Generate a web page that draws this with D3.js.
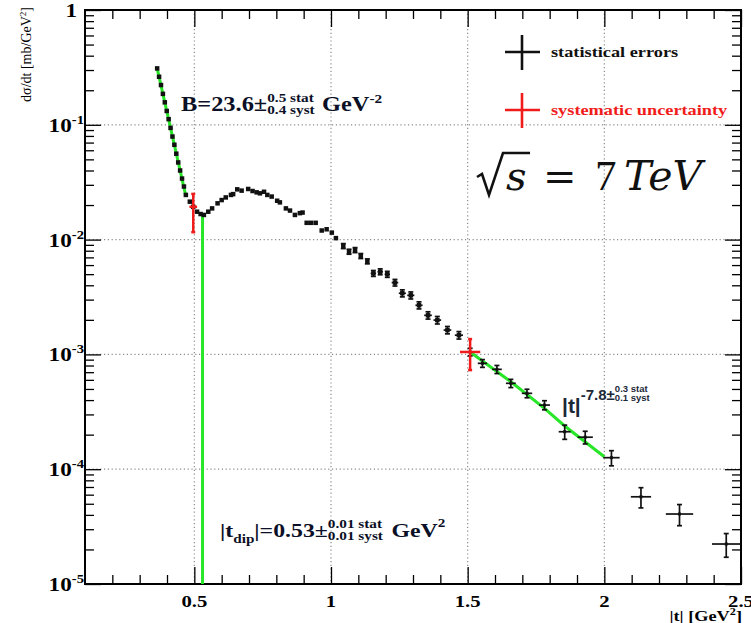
<!DOCTYPE html>
<html>
<head>
<meta charset="utf-8">
<title>dsigma/dt at 7 TeV</title>
<style>
  body { margin: 0; background: #fff; }
  svg { display: block; }
</style>
</head>
<body>
<div id="chart"></div>
<script src="https://d3js.org/d3.v7.min.js"></script>
<script>

var width = 751, height = 623;
var margin = {top: 10, right: 10, bottom: 39, left: 85};

// |t| [GeV^2] and dsigma/dt [mb/GeV^2]
var tVals = [0.364, 0.371, 0.378, 0.385, 0.392, 0.399, 0.406, 0.413, 0.420, 0.427, 0.434, 0.441,
             0.448, 0.455, 0.462, 0.469, 0.4835, 0.496, 0.510, 0.523, 0.535, 0.551, 0.565, 0.585,
             0.600, 0.615, 0.634, 0.642, 0.657, 0.673, 0.697, 0.713, 0.728, 0.740, 0.755, 0.767,
             0.783, 0.803, 0.813, 0.835, 0.850, 0.868, 0.886, 0.896, 0.911, 0.927, 0.944, 0.966,
             0.984, 1.003, 1.018, 1.045, 1.066, 1.088, 1.109, 1.133, 1.155, 1.180, 1.206, 1.234,
             1.261, 1.292, 1.322, 1.355, 1.389, 1.426, 1.468, 1.509, 1.554, 1.607, 1.658, 1.717,
             1.781, 1.855, 1.930, 2.026, 2.134, 2.275, 2.446];
var dsdt = [0.310, 0.262, 0.222, 0.186, 0.157, 0.132, 0.112, 0.094, 0.079, 0.067, 0.056, 0.047,
            0.040, 0.034, 0.029, 0.0245, 0.0214, 0.0193, 0.0175, 0.0167, 0.0164, 0.0175, 0.0187, 0.0207,
            0.0221, 0.0233, 0.0245, 0.0249, 0.0274, 0.0267, 0.0276, 0.0265, 0.0258, 0.0253, 0.0261, 0.0245,
            0.0237, 0.0218, 0.0211, 0.0187, 0.0179, 0.0164, 0.0170, 0.0172, 0.0140, 0.0140, 0.0140, 0.0120,
            0.0123, 0.0115, 0.0103, 0.00879, 0.00785, 0.00811, 0.00720, 0.00647, 0.00508, 0.00525, 0.00499, 0.00422,
            0.00341, 0.00327, 0.00268, 0.00219, 0.00199, 0.00163, 0.00147, 0.00105, 8.36e-4, 7.41e-4, 5.60e-4, 4.58e-4,
            3.62e-4, 2.12e-4, 1.90e-4, 1.26e-4, 5.75e-5, 4.07e-5, 2.23e-5];
var tErr = [0, 0, 0, 0, 0, 0, 0, 0, 0, 0, 0, 0,
            0, 0, 0, 0, 0, 0, 0, 0, 0, 0, 0, 0,
            0, 0, 0, 0, 0, 0, 0, 0, 0, 0, 0, 0,
            0, 0, 0, 0, 0, 0, 0, 0, 0, 0, 0, 0,
            0, 0, 0, 0.006, 0.006, 0.006, 0.006, 0.006, 0.010, 0.010, 0.010, 0.012,
            0.013, 0.013, 0.013, 0.014, 0.014, 0.014, 0.015, 0.016, 0.017, 0.018, 0.018, 0.019,
            0.020, 0.022, 0.028, 0.030, 0.037, 0.050, 0.052];
var dsdtErr = [0, 0, 0, 0, 0, 0, 0, 0, 0, 0, 0, 0,
               0, 0, 0, 0, 0, 0, 0, 0, 0, 0, 0, 0,
               0, 0, 0, 0, 0, 0, 0, 0, 0, 0, 0, 0,
               0, 0, 0, 0, 0, 0, 0, 0, 0, 0, 0, 0,
               0, 0, 0, 0.00044, 0.00039, 0.00041, 0.00036, 0.00032, 0.00030, 0.00031, 0.00030, 0.00028,
               0.00024, 0.00023, 0.00019, 0.00016, 0.00015, 0.00012, 0.00011, 0.00008, 6.5e-5, 6.0e-5, 4.6e-5, 3.9e-5,
               3.3e-5, 3.0e-5, 2.4e-5, 1.9e-5, 1.15e-5, 8.5e-6, 5.2e-6];

// systematic uncertainty bars (red)
var sysT = [0.496, 1.509];
var sysVal = [0.0193, 0.00105];
var sysTErr = [0.014, 0.037];
var sysLow = [0.0116, 7.3e-4];
var sysHigh = [0.025, 1.36e-3];

// fitted curves (green), read as points
var expFitT = [0.364, 0.468];
var expFitV = [0.31, 0.0245];
var powFitT = [1.509, 1.658, 1.781, 1.855, 2.0];
var powFitV = [1.05e-3, 5.78e-4, 3.39e-4, 2.38e-4, 1.285e-4];
var tDip = 0.53;
var dipTop = 0.0164;

var xMajor = [0.5, 1, 1.5, 2, 2.5];
var xLabels = ["0.5", "1", "1.5", "2", "2.5"];
var yMajor = [1, 1e-1, 1e-2, 1e-3, 1e-4, 1e-5];
var yExp = ["0", "-1", "-2", "-3", "-4", "-5"];

var serif = "'Liberation Serif', 'Times New Roman', serif";
var sans = "'Liberation Sans', Arial, sans-serif";
var sx = 1.22;   // ROOT text in the picture is a bit wide

var svg = d3.select("#chart").append("svg")
    .attr("width", width)
    .attr("height", height);

var x = d3.scaleLinear().domain([0.1, 2.5]).range([margin.left, width - margin.right]);
var y = d3.scaleLog().domain([1e-5, 1]).range([height - margin.bottom, margin.top]);

var x0 = margin.left, x1 = width - margin.right,
    y0 = margin.top, y1 = height - margin.bottom;

// grid
var grid = svg.append("g")
    .attr("stroke", "#8c8c8c")
    .attr("stroke-width", 1.2)
    .attr("stroke-dasharray", "1.2,2.6");
grid.selectAll(".gx").data(xMajor.filter(function(d) { return d < 2.5; }))
    .enter().append("line")
    .attr("x1", function(d) { return x(d); }).attr("x2", function(d) { return x(d); })
    .attr("y1", y0).attr("y2", y1);
grid.selectAll(".gy").data(yMajor.filter(function(d) { return d < 1 && d > 1e-5; }))
    .enter().append("line")
    .attr("y1", function(d) { return y(d); }).attr("y2", function(d) { return y(d); })
    .attr("x1", x0).attr("x2", x1);

// ticks, pointing inward on all four sides
var xMinor = d3.range(2, 25).map(function(i) { return i / 10; })
    .filter(function(d) { return Math.abs(d * 2 - Math.round(d * 2)) > 1e-6; });
var yMinor = y.ticks().filter(function(d) {
    var m = d / Math.pow(10, Math.floor(Math.log10(d) + 1e-9));
    return Math.abs(m - 1) > 1e-6;
});

function styleAxis(g) {
    g.select(".domain").remove();
    g.selectAll("line").attr("stroke", "#000").attr("stroke-width", 1.3);
    g.selectAll("text").remove();
}

svg.append("g").attr("transform", "translate(0," + y1 + ")")
    .call(d3.axisBottom(x).tickValues(xMajor).tickSize(-17).tickSizeOuter(0)).call(styleAxis);
svg.append("g").attr("transform", "translate(0," + y1 + ")")
    .call(d3.axisBottom(x).tickValues(xMinor).tickSize(-9).tickSizeOuter(0)).call(styleAxis);
svg.append("g").attr("transform", "translate(0," + y0 + ")")
    .call(d3.axisTop(x).tickValues(xMajor).tickSize(-17).tickSizeOuter(0)).call(styleAxis);
svg.append("g").attr("transform", "translate(0," + y0 + ")")
    .call(d3.axisTop(x).tickValues(xMinor).tickSize(-9).tickSizeOuter(0)).call(styleAxis);
svg.append("g").attr("transform", "translate(" + x0 + ",0)")
    .call(d3.axisLeft(y).tickValues(yMajor).tickSize(-16).tickSizeOuter(0)).call(styleAxis);
svg.append("g").attr("transform", "translate(" + x0 + ",0)")
    .call(d3.axisLeft(y).tickValues(yMinor).tickSize(-9).tickSizeOuter(0)).call(styleAxis);
svg.append("g").attr("transform", "translate(" + x1 + ",0)")
    .call(d3.axisRight(y).tickValues(yMajor).tickSize(-16).tickSizeOuter(0)).call(styleAxis);
svg.append("g").attr("transform", "translate(" + x1 + ",0)")
    .call(d3.axisRight(y).tickValues(yMinor).tickSize(-9).tickSizeOuter(0)).call(styleAxis);

// frame
svg.append("rect")
    .attr("x", x0).attr("y", y0)
    .attr("width", x1 - x0).attr("height", y1 - y0)
    .attr("fill", "none").attr("stroke", "#000").attr("stroke-width", 2);

// tick labels
svg.selectAll(".xl").data(xMajor)
    .enter().append("text")
    .attr("transform", function(d) { return "translate(" + x(d) + "," + (y1 + 23) + ") scale(" + sx + ",1)"; })
    .attr("text-anchor", "middle")
    .style("font-family", serif).style("font-weight", "bold").style("font-size", "17px")
    .text(function(d, i) { return xLabels[i]; });

var yl = svg.selectAll(".yl").data(yMajor)
    .enter().append("text")
    .attr("transform", function(d, i) {
        return "translate(" + (i === 0 ? 77 : 84) + "," + (y(d) + 7) + ") scale(" + sx + ",1)";
    })
    .attr("text-anchor", "end")
    .style("font-family", serif).style("font-weight", "bold").style("font-size", "19px");
yl.each(function(d, i) {
    var t = d3.select(this);
    if (i === 0) { t.text("1"); return; }
    t.append("tspan").text("10");
    t.append("tspan").attr("dy", -8).style("font-size", "12px").text(yExp[i]);
});

// axis titles
var yt = svg.append("text")
    .attr("transform", "translate(31,7) rotate(-90)")
    .attr("text-anchor", "end")
    .style("font-family", serif).style("font-size", "14px");
yt.append("tspan").text("dσ/dt [mb/GeV");
yt.append("tspan").attr("dy", -5).style("font-size", "9px").text("2");
yt.append("tspan").attr("dy", 5).text("]");

var xt = svg.append("text")
    .attr("transform", "translate(" + (x1 + 1) + ",621) scale(" + sx + ",1)")
    .attr("text-anchor", "end")
    .style("font-family", serif).style("font-weight", "bold").style("font-size", "15px");
xt.append("tspan").text("|t| [GeV");
xt.append("tspan").attr("dy", -6).style("font-size", "10px").text("2");
xt.append("tspan").attr("dy", 6).text("]");

// fit curves
var line = d3.line().x(function(d) { return x(d[0]); }).y(function(d) { return y(d[1]); });
var fits = svg.append("g").attr("fill", "none").attr("stroke", "#27e627").attr("stroke-width", 3);
fits.append("path").attr("d", line(expFitT.map(function(t, i) { return [t, expFitV[i]]; })));
fits.append("path").attr("d", line(powFitT.map(function(t, i) { return [t, powFitV[i]]; })));
fits.append("path").attr("d", line([[tDip, dipTop], [tDip, 1e-5]]));

// statistical error bars and markers
var pts = tVals.map(function(t, i) {
    return {t: t, v: dsdt[i], et: tErr[i], ev: dsdtErr[i]};
});
var bars = svg.append("g").attr("stroke", "#111").attr("stroke-width", 1.7);
pts.filter(function(d) { return d.et > 0; }).forEach(function(d) {
    bars.append("line").attr("x1", x(d.t - d.et)).attr("x2", x(d.t + d.et))
        .attr("y1", y(d.v)).attr("y2", y(d.v));
    bars.append("line").attr("x1", x(d.t)).attr("x2", x(d.t))
        .attr("y1", y(d.v - d.ev)).attr("y2", y(d.v + d.ev));
    [d.v - d.ev, d.v + d.ev].forEach(function(v) {
        bars.append("line").attr("x1", x(d.t) - 2.5).attr("x2", x(d.t) + 2.5)
            .attr("y1", y(v)).attr("y2", y(v));
    });
});
svg.append("g").selectAll("rect").data(pts)
    .enter().append("rect")
    .attr("x", function(d) { var s = d.t < 1.5 ? 4.5 : 3; return x(d.t) - s / 2; })
    .attr("y", function(d) { var s = d.t < 1.5 ? 4.5 : 3; return y(d.v) - s / 2; })
    .attr("width", function(d) { return d.t < 1.5 ? 4.5 : 3; })
    .attr("height", function(d) { return d.t < 1.5 ? 4.5 : 3; })
    .attr("fill", "#111");

// systematic bars
var sys = svg.append("g").attr("stroke", "#f01c1c").attr("stroke-width", 2.5);
sysT.forEach(function(t, i) {
    sys.append("line").attr("x1", x(t - sysTErr[i])).attr("x2", x(t + sysTErr[i]))
        .attr("y1", y(sysVal[i])).attr("y2", y(sysVal[i]));
    sys.append("line").attr("x1", x(t)).attr("x2", x(t))
        .attr("y1", y(sysLow[i])).attr("y2", y(sysHigh[i]));
    [sysLow[i], sysHigh[i]].forEach(function(v) {
        sys.append("line").attr("x1", x(t) - 2).attr("x2", x(t) + 2)
            .attr("y1", y(v)).attr("y2", y(v));
    });
});

// legend
var legend = [{label: "statistical errors", color: "#111", cy: 52},
              {label: "systematic uncertainty", color: "#f01c1c", cy: 110}];
legend.forEach(function(l) {
    var g = svg.append("g").attr("stroke", l.color).attr("stroke-width", 2.6);
    g.append("line").attr("x1", 505).attr("x2", 540).attr("y1", l.cy).attr("y2", l.cy);
    g.append("line").attr("x1", 522).attr("x2", 522).attr("y1", l.cy - 17).attr("y2", l.cy + 18);
    svg.append("text")
        .attr("transform", "translate(551," + (l.cy + 5) + ") scale(" + sx + ",1)")
        .style("font-family", serif).style("font-weight", "bold").style("font-size", "15px")
        .attr("fill", l.color)
        .text(l.label);
});

// rich text with stacked super/subscripts
function richText(px, py, scale, font, weight, size, color, parts) {
    var g = svg.append("g")
        .attr("transform", "translate(" + px + "," + py + ") scale(" + scale + ",1)")
        .style("font-family", font).style("font-weight", weight).attr("fill", color);
    var cx = 0;
    parts.forEach(function(p) {
        var list = p.stack || [p];
        var w = 0;
        list.forEach(function(s) {
            var t = g.append("text").attr("x", cx).attr("y", s.dy || 0)
                .style("font-size", (s.size || size) + "px").text(s.t);
            w = Math.max(w, t.node().getComputedTextLength());
        });
        cx += w + (p.gap || 0);
    });
    return g;
}

richText(181, 111, sx, serif, "bold", 20, "#0b1026", [
    {t: "B=23.6±"},
    {stack: [{t: "0.5 stat", size: 12.5, dy: -9}, {t: "0.4 syst", size: 12.5, dy: 3}], gap: 6},
    {t: "GeV"},
    {t: "-2", size: 12.5, dy: -8}
]);

richText(220, 537, sx, serif, "bold", 19.5, "#0b1026", [
    {t: "|t"},
    {t: "dip", size: 12.5, dy: 6},
    {t: "|=0.53±"},
    {stack: [{t: "0.01 stat", size: 12.5, dy: -9}, {t: "0.01 syst", size: 12.5, dy: 3}], gap: 7},
    {t: "GeV"},
    {t: "2", size: 12.5, dy: -10}
]);

richText(562, 413, 1, sans, "bold", 21, "#1b2838", [
    {t: "|t|"},
    {t: "-7.8±", size: 15, dy: -13},
    {stack: [{t: "0.3 stat", size: 9.5, dy: -21}, {t: "0.1 syst", size: 9.5, dy: -12}]}
]);

// sqrt(s) = 7 TeV
svg.append("path")
    .attr("d", "M477,177 L482,174 L489,195 L503,153 L530,153")
    .attr("fill", "none").attr("stroke", "#111").attr("stroke-width", 2.6)
    .attr("stroke-linejoin", "miter");
var mathFont = "'DejaVu Serif', serif";
[{t: "s", px: 506, it: true, f: mathFont, s: 40}, {t: "=", px: 543, it: false, f: mathFont, s: 40},
 {t: "7", px: 595, it: false, f: serif, s: 43}, {t: "TeV", px: 624, it: true, f: mathFont, s: 41}].forEach(function(p) {
    svg.append("text")
        .attr("x", p.px).attr("y", 190)
        .style("font-family", p.f).style("font-size", p.s + "px")
        .style("font-style", p.it ? "italic" : "normal")
        .attr("fill", "#111")
        .text(p.t);
});

</script>
</body>
</html>
